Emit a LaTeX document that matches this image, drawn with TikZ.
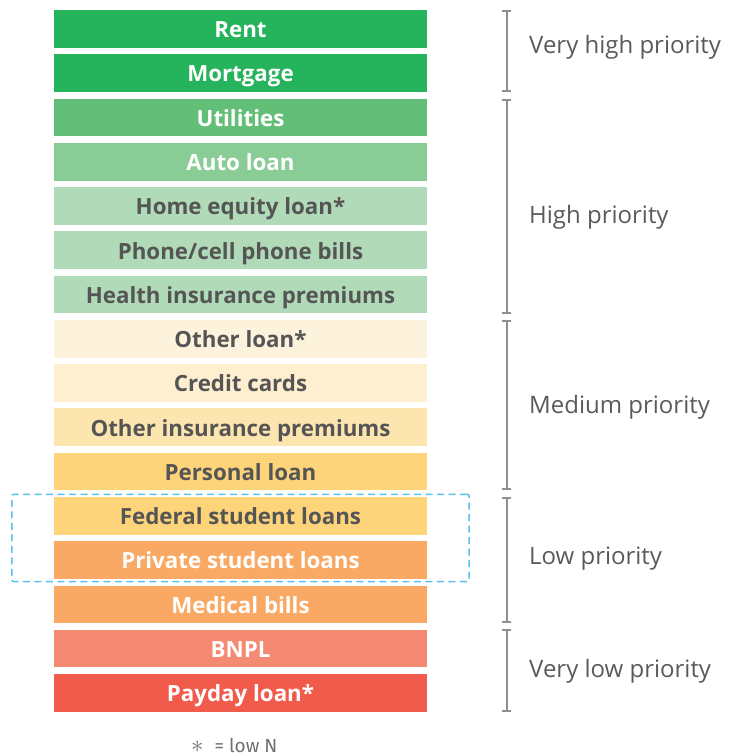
\documentclass[tikz,border=0pt]{standalone}
\usepackage{fontspec}
\setmainfont{Open Sans}
\newfontfamily\notefont{Fira Sans}
\usetikzlibrary{arrows.meta,fit}

\definecolor{gA}{HTML}{25B35B}
\definecolor{gB}{HTML}{63BF78}
\definecolor{gC}{HTML}{8ACC96}
\definecolor{gD}{HTML}{B0DAB8}
\definecolor{yA}{HTML}{FDF3DC}
\definecolor{yB}{HTML}{FEEFD0}
\definecolor{yC}{HTML}{FDE5B0}
\definecolor{yD}{HTML}{FDD47A}
\definecolor{oA}{HTML}{F9A963}
\definecolor{rA}{HTML}{F48A72}
\definecolor{rB}{HTML}{F15B4B}
\definecolor{darktxt}{HTML}{555555}
\definecolor{graytxt}{HTML}{5A5A5A}
\definecolor{notegray}{HTML}{707070}
\definecolor{bracketgray}{HTML}{8F8F8F}
\definecolor{dashblue}{HTML}{5BC0EB}

\tikzset{
  bar/.style={minimum width=373pt, minimum height=37.7pt, inner sep=0pt,
    text height=17.7pt, text depth=0pt,
    font=\fontsize{22.3}{24}\selectfont\bfseries},
  lightbar/.style={bar, text=white},
  darkbar/.style={bar, text=darktxt},
  bracket/.style={bracketgray, line width=2pt, {Bar[width=9pt,line width=2pt]}-{Bar[width=9pt,line width=2pt]}, shorten <=-1pt, shorten >=-1pt},
  prio/.style={anchor=west, text=graytxt, inner sep=0pt, font=\fontsize{24}{26}\selectfont},
}

\begin{document}
\begin{tikzpicture}[x=1pt, y=-1pt]
\useasboundingbox (0,0) rectangle (729,756);

% stacked bars, top to bottom
\node[lightbar, fill=gA] (b0)  at (240.5, 28.85) {Rent};
\node[lightbar, fill=gA] (b1)  at (240.5, 73.12) {Mortgage};
\node[lightbar, fill=gB] (b2)  at (240.5,117.39) {Utilities};
\node[lightbar, fill=gC] (b3)  at (240.5,161.66) {Auto loan};
\node[darkbar,  fill=gD] (b4)  at (240.5,205.93) {Home equity loan*};
\node[darkbar,  fill=gD] (b5)  at (240.5,250.20) {Phone/cell phone bills};
\node[darkbar,  fill=gD] (b6)  at (240.5,294.47) {Health insurance premiums};
\node[darkbar,  fill=yA] (b7)  at (240.5,338.74) {Other loan*};
\node[darkbar,  fill=yB] (b8)  at (240.5,383.01) {Credit cards};
\node[darkbar,  fill=yC] (b9)  at (240.5,427.28) {Other insurance premiums};
\node[darkbar,  fill=yD] (b10) at (240.5,471.55) {Personal loan};
\node[darkbar,  fill=yD] (b11) at (240.5,515.82) {Federal student loans};
\node[lightbar, fill=oA] (b12) at (240.5,560.09) {Private student loans};
\node[lightbar, fill=oA] (b13) at (240.5,604.36) {Medical bills};
\node[lightbar, fill=rA] (b14) at (240.5,648.63) {BNPL};
\node[lightbar, fill=rB] (b15) at (240.5,692.90) {Payday loan*};

% dashed frame around the student loans
\node[draw=dashblue, line width=1.5pt, dash pattern=on 7pt off 4.5pt,
      rounded corners=2pt, inner xsep=42pt, inner ysep=2.5pt, fit=(b11)(b12)] (student) {};

% priority brackets
\coordinate (vhT) at (506.7, 11.0);   \coordinate (vhB) at (506.7, 90.5);
\coordinate (hT)  at (506.7, 99.5);   \coordinate (hB)  at (506.7,312.5);
\coordinate (mT)  at (506.7,320.7);   \coordinate (mB)  at (506.7,488.7);
\coordinate (lT)  at (506.7,498.0);   \coordinate (lB)  at (506.7,622.0);
\coordinate (vlT) at (506.7,630.0);   \coordinate (vlB) at (506.7,711.0);
\draw[bracket] (vhT) -- (vhB);
\draw[bracket] (hT) -- (hB);
\draw[bracket] (mT) -- (mB);
\draw[bracket] (lT) -- (lB);
\draw[bracket] (vlT) -- (vlB);

\node[prio] (pvh) at (529, 47)  {Very high priority};
\node[prio] (ph)  at (529,217)  {High priority};
\node[prio] (pm)  at (529,407)  {Medium priority};
\node[prio] (pl)  at (529,559)  {Low priority};
\node[prio] (pvl) at (529,671)  {Very low priority};

% footnote
\node[anchor=west, inner sep=0pt, text=notegray] (note) at (191,745)
  {{\fontsize{24}{24}\selectfont$\ast$}\hspace{11pt}{\notefont\fontsize{19}{20}\selectfont = low N}};
\end{tikzpicture}
\end{document}
